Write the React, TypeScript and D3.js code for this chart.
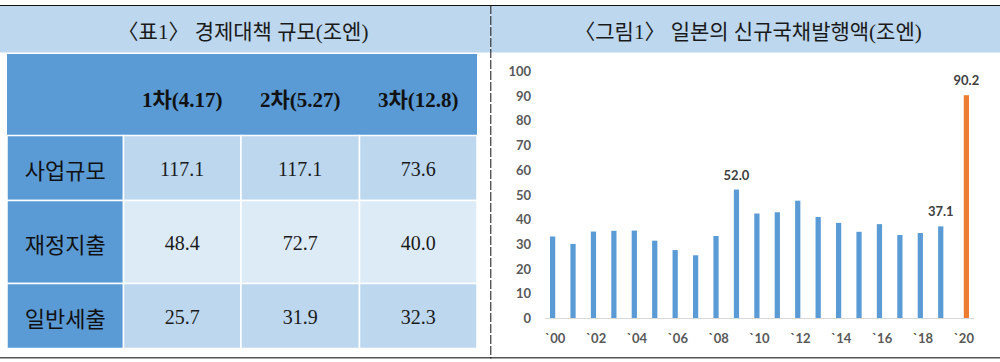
import * as d3 from "d3"

// 표1 data
const stages = ["1차(4.17)", "2차(5.27)", "3차(12.8)"]
const measures = ["사업규모", "재정지출", "일반세출"]
const businessScale = [117.1, 117.1, 73.6]
const fiscalSpending = [48.4, 72.7, 40.0]
const generalSpending = [25.7, 31.9, 32.3]
const tableValues = [businessScale, fiscalSpending, generalSpending]

// 그림1 data
const years = [
  "2000", "2001", "2002", "2003", "2004", "2005", "2006", "2007", "2008", "2009", "2010",
  "2011", "2012", "2013", "2014", "2015", "2016", "2017", "2018", "2019", "2020",
]
const issuance = [
  33.0, 30.0, 35.0, 35.3, 35.4, 31.3, 27.5, 25.4, 33.2, 52.0, 42.3, 42.8, 47.5, 40.9, 38.5,
  34.9, 38.0, 33.6, 34.4, 37.1, 90.2,
]
const highlightYear = "2020"
const labelledYears = ["2009", "2019", "2020"]

const BLUE = "#5B9BD5"
const ORANGE = "#ED7D31"
const LIGHT = "#BDD7EE"
const LIGHTER = "#DDEBF7"

const serif = "'Liberation Serif', 'Noto Sans CJK KR', serif"
const gothic = "'Noto Sans CJK KR', sans-serif"
const calibri = "Lato, 'Open Sans', sans-serif"

const Table = () => {
  const colEdges = [7, 123.5, 241, 359.5, 477]
  const rowEdges = [54, 135.5, 200.5, 283.5, 348.5]
  const rowFill = [LIGHT, LIGHTER, LIGHT]

  return (
    <g>
      <rect x={0} y={6} width={490.5} height={46.5} fill={LIGHT} />
      <text
        x={243}
        y={32}
        textAnchor="middle"
        dominantBaseline="central"
        fontFamily={serif}
        fontSize={21}
        fill="#1a1a1a"
      >
        〈표1〉 경제대책 규모(조엔)
      </text>

      {/* header row */}
      <rect x={colEdges[0]} y={rowEdges[0]} width={colEdges[4] - colEdges[0]} height={rowEdges[1] - rowEdges[0]} fill={BLUE} />
      {stages.map((s, i) => (
        <text
          key={s}
          x={(colEdges[i + 1] + colEdges[i + 2]) / 2}
          y={100}
          textAnchor="middle"
          dominantBaseline="central"
          fontFamily={serif}
          fontWeight="bold"
          fontSize={21}
          fill="#111"
        >
          {s}
        </text>
      ))}

      {measures.map((m, r) => (
        <g key={m}>
          <rect
            x={colEdges[0]}
            y={rowEdges[r + 1]}
            width={colEdges[1] - colEdges[0]}
            height={rowEdges[r + 2] - rowEdges[r + 1]}
            fill={BLUE}
            stroke="#fff"
            strokeWidth={1.5}
          />
          <text
            x={(colEdges[0] + colEdges[1]) / 2}
            y={(rowEdges[r + 1] + rowEdges[r + 2]) / 2 + 1}
            textAnchor="middle"
            dominantBaseline="central"
            fontFamily={gothic}
            fontWeight={400}
            fontSize={22}
            fill="#111"
          >
            {m}
          </text>
          {tableValues[r].map((v, c) => (
            <g key={c}>
              <rect
                x={colEdges[c + 1]}
                y={rowEdges[r + 1]}
                width={colEdges[c + 2] - colEdges[c + 1]}
                height={rowEdges[r + 2] - rowEdges[r + 1]}
                fill={rowFill[r]}
                stroke="#fff"
                strokeWidth={1.5}
              />
              <text
                x={(colEdges[c + 1] + colEdges[c + 2]) / 2}
                y={(rowEdges[r + 1] + rowEdges[r + 2]) / 2 + 1}
                textAnchor="middle"
                dominantBaseline="central"
                fontFamily={serif}
                fontSize={20}
                fill="#1a1a1a"
              >
                {v.toFixed(1)}
              </text>
            </g>
          ))}
        </g>
      ))}
    </g>
  )
}

const BarChart = () => {
  const x = d3.scaleBand().domain(years).range([545, 974]).padding(0)
  const slot = d3.scaleBand().domain(["base", "highlight"]).range([0, x.bandwidth()]).paddingOuter(0.95)
  const y = d3.scaleLinear().domain([0, 100]).range([318, 71])
  const barX = (yr: string) => (x(yr) as number) + (slot(yr === highlightYear ? "highlight" : "base") as number)

  return (
    <g>
      <rect x={491} y={6} width={509} height={46.5} fill={LIGHT} />
      <text
        x={748}
        y={32}
        textAnchor="middle"
        dominantBaseline="central"
        fontFamily={serif}
        fontSize={21}
        fill="#1a1a1a"
      >
        〈그림1〉 일본의 신규국채발행액(조엔)
      </text>

      {y.ticks(10).map((t) => (
        <text
          key={t}
          x={531}
          y={y(t)}
          textAnchor="end"
          dominantBaseline="central"
          fontFamily={calibri}
          fontWeight="bold"
          fontSize={13}
          fill="#595959"
        >
          {t}
        </text>
      ))}

      {years.map((yr, i) => (
        <rect
          key={yr}
          x={barX(yr)}
          y={y(issuance[i])}
          width={slot.bandwidth()}
          height={y(0) - y(issuance[i])}
          fill={yr === highlightYear ? ORANGE : BLUE}
        />
      ))}

      <line x1={545} x2={974} y1={y(0) + 0.5} y2={y(0) + 0.5} stroke="#D9D9D9" strokeWidth={1} />

      {years
        .filter((yr) => +yr % 2 === 0)
        .map((yr) => (
          <text
            key={yr}
            x={(x(yr) as number) + x.bandwidth() / 2}
            y={342.5}
            textAnchor="middle"
            fontFamily={calibri}
            fontWeight="bold"
            fontSize={13}
            fill="#595959"
          >
            {"`" + yr.slice(2)}
          </text>
        ))}

      {years.map((yr, i) =>
        labelledYears.includes(yr) ? (
          <text
            key={yr}
            x={barX(yr) + slot.bandwidth() / 2}
            y={y(issuance[i]) - 10}
            textAnchor="middle"
            fontFamily={calibri}
            fontWeight="bold"
            fontSize={13}
            fill="#404040"
          >
            {issuance[i].toFixed(1)}
          </text>
        ) : null
      )}
    </g>
  )
}

export default function App() {
  return (
    <>
      <style>{"body{margin:0}"}</style>
      <svg width={1000} height={362} style={{ display: "block", background: "#fff" }}>
        <line x1={0} x2={1000} y1={5.5} y2={5.5} stroke="#111" strokeWidth={1.2} />
        <Table />
        <BarChart />
        <line x1={0} x2={1000} y1={357.8} y2={357.8} stroke="#555" strokeWidth={1.6} />
        <line x1={490.8} x2={490.8} y1={5} y2={358.5} stroke="#111" strokeWidth={1} strokeDasharray="9,2" />
      </svg>
    </>
  )
}
